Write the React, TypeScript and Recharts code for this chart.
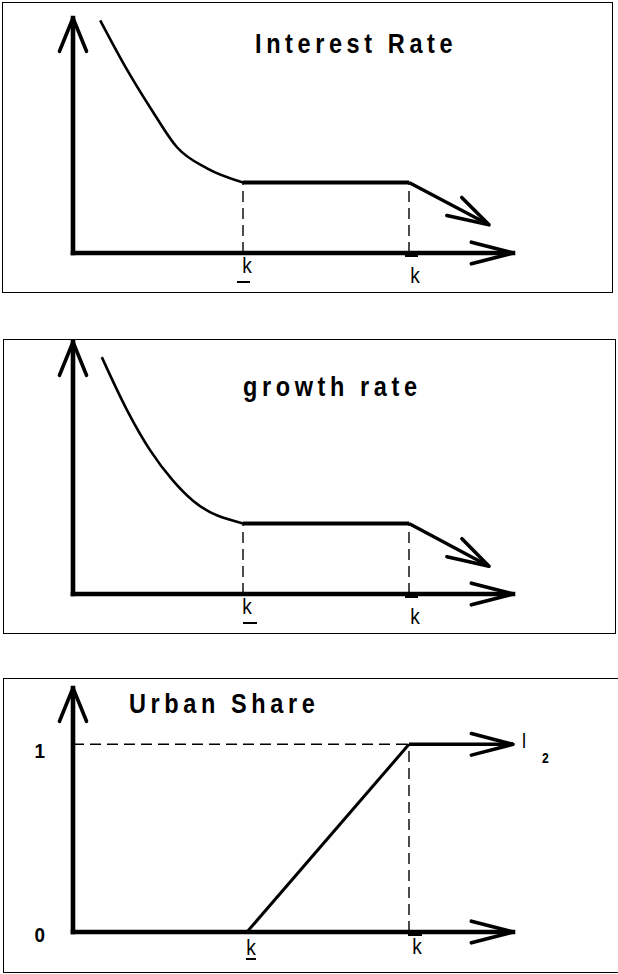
import React from 'react';
import { LineChart, Line, XAxis, YAxis, ReferenceLine } from 'recharts';

// ---------- data ----------
const xMax = 11;

// Panel 1: Interest Rate
const interestCurve = [
  { x: 0.68, y: 9.9 },
  { x: 1.35, y: 7.8 },
  { x: 2.0, y: 6.0 },
  { x: 2.6, y: 4.5 },
  { x: 3.35, y: 3.6 },
  { x: 4.25, y: 3.0 },
];
const interestFlat = [
  { x: 4.25, y: 3.0 },
  { x: 8.4, y: 3.0 },
];
const interestDecline = [
  { x: 8.4, y: 3.0 },
  { x: 10.4, y: 1.2 },
];
const interestK = [4.25, 8.4];
const interestYMax = 10;

// Panel 2: growth rate
const growthCurve = [
  { x: 0.72, y: 9.4 },
  { x: 1.35, y: 7.3 },
  { x: 1.93, y: 5.7 },
  { x: 2.5, y: 4.5 },
  { x: 3.0, y: 3.7 },
  { x: 4.25, y: 2.8 },
];
const growthFlat = [
  { x: 4.25, y: 2.8 },
  { x: 8.4, y: 2.8 },
];
const growthDecline = [
  { x: 8.4, y: 2.8 },
  { x: 10.4, y: 1.1 },
];
const growthK = [4.25, 8.4];
const growthYMax = 10;

// Panel 3: Urban Share
const urbanShare = [
  { x: 4.35, y: 0 },
  { x: 8.4, y: 1 },
];
const urbanTop = [
  { x: 8.4, y: 1 },
  { x: 11, y: 1 },
];
const urbanK = [4.35, 8.4];
const urbanYTicks = [0, 1];
const urbanYMax = 1.3;

const titles = ['Interest Rate', 'growth rate', 'Urban Share'];
const kLabel = 'k';
const endLabel = 'l';
const endSub = '2';

// ---------- styles ----------
const FONT = '"Liberation Sans", Arial, Helvetica, sans-serif';
const STRETCH = 1.25;
const NARROW = 0.87;

function SText({ x, y, children, sx = NARROW, ...rest }: any) {
  return (
    <text transform={`translate(${x},${y}) scale(${sx},1)`} x={0} y={0} fontFamily={FONT} fill="#000" {...rest}>
      {children}
    </text>
  );
}

type ArrowOpts = { width?: number; cap?: 'butt' | 'square' | 'round'; label?: boolean };

function arrowShape(opts: ArrowOpts) {
  return (props: any) => {
    const { x1, y1, x2, y2 } = props;
    const L = 35;
    const th = (18 * Math.PI) / 180;
    const dx = (x2 - x1) / STRETCH;
    const dy = y2 - y1;
    const a = Math.atan2(dy, dx) + Math.PI;
    const wing = (ang: number) => [x2 + Math.cos(ang) * L * STRETCH, y2 + Math.sin(ang) * L];
    const [ax, ay] = wing(a - th);
    const [bx, by] = wing(a + th);
    return (
      <g>
        <line
          x1={x1}
          y1={y1}
          x2={x2}
          y2={y2}
          stroke="#000"
          strokeWidth={opts.width ?? 4}
          strokeLinecap={opts.cap ?? 'butt'}
        />
        <polyline
          points={`${ax},${ay} ${x2},${y2} ${bx},${by}`}
          fill="none"
          stroke="#000"
          strokeWidth={3.6}
          strokeLinejoin="round"
          strokeLinecap="round"
        />
        {opts.label ? (
          <g>
            <SText x={x2 + 9} y={y2 + 4} fontSize={21}>
              {endLabel}
            </SText>
            <SText x={x2 + 29} y={y2 + 19} fontSize={14} fontWeight="bold">
              {endSub}
            </SText>
          </g>
        ) : null}
      </g>
    );
  };
}

type KCfg = {
  low: { dx: number; dy: number; bx0: number; bx1: number; by: number };
  high: { dx: number; dy: number; bx0: number; bx1: number; by: number };
};

function makeKTick(ticks: number[], cfg: KCfg) {
  return (p: any) => {
    const { x, y, payload } = p;
    const isLow = payload.value === ticks[0];
    const c = isLow ? cfg.low : cfg.high;
    return (
      <g>
        <SText x={x + c.dx} y={y + c.dy} textAnchor="middle" fontSize={22}>
          {kLabel}
        </SText>
        <rect x={x + c.bx0} y={y + c.by} width={c.bx1 - c.bx0} height={isLow ? 2 : 3} fill="#000" />
      </g>
    );
  };
}

const UrbanYTick = (p: any) => {
  const { x, y, payload } = p;
  return (
    <SText
      x={x - 28}
      y={y + (payload.value === 0 ? 10 : 14)}
      textAnchor="end"
      fontSize={21}
      fontWeight="bold"
      sx={0.9}
    >
      {payload.value}
    </SText>
  );
};

const dash = { stroke: '#000', strokeWidth: 1.4, strokeDasharray: '11 6' };

const titleStyle = {
  fontSize: 27,
  fontWeight: 'bold' as const,
  letterSpacing: 5.3,
};

function Box({ l, t, r, b }: { l: number; t: number; r: number; b: number }) {
  return (
    <div
      style={{
        position: 'absolute',
        left: l,
        top: t,
        width: r - l,
        height: b - t,
        border: '1.5px solid #000',
        boxSizing: 'border-box',
      }}
    />
  );
}

function RatePanel({
  top,
  margin,
  curve,
  flat,
  decline,
  ks,
  yMax,
  title,
  titleX,
  titleY,
  kcfg,
}: any) {
  const level = flat[0].y;
  return (
    <div style={{ position: 'absolute', left: 0, top }}>
      <LineChart width={618} height={300} margin={margin}>
        <XAxis
          type="number"
          dataKey="x"
          domain={[0, xMax]}
          ticks={ks}
          interval={0}
          axisLine={false}
          tickLine={false}
          tickSize={0}
          tickMargin={0}
          height={30}
          tick={makeKTick(ks, kcfg)}
        />
        <YAxis type="number" dataKey="y" domain={[0, yMax]} hide />
        <ReferenceLine
          segment={[
            { x: ks[0], y: 0 },
            { x: ks[0], y: level },
          ]}
          ifOverflow="visible"
          {...dash}
        />
        <ReferenceLine
          segment={[
            { x: ks[1], y: 0 },
            { x: ks[1], y: level },
          ]}
          ifOverflow="visible"
          {...dash}
        />
        <ReferenceLine
          segment={[
            { x: 0, y: 0 },
            { x: 0, y: yMax },
          ]}
          ifOverflow="visible"
          shape={arrowShape({ width: 4.6, cap: 'square' })}
        />
        <ReferenceLine
          segment={[
            { x: 0, y: 0 },
            { x: xMax, y: 0 },
          ]}
          ifOverflow="visible"
          shape={arrowShape({ width: 4.6, cap: 'square' })}
        />
        <Line
          data={curve}
          dataKey="y"
          type="monotone"
          stroke="#000"
          strokeWidth={2.6}
          dot={false}
          activeDot={false}
          isAnimationActive={false}
        />
        <Line
          data={flat}
          dataKey="y"
          type="linear"
          stroke="#000"
          strokeWidth={4}
          dot={false}
          activeDot={false}
          isAnimationActive={false}
        />
        <ReferenceLine segment={decline} ifOverflow="visible" shape={arrowShape({ width: 3.3 })} />
        <SText x={titleX} y={titleY} {...titleStyle}>
          {title}
        </SText>
      </LineChart>
    </div>
  );
}

function UrbanPanel() {
  return (
    <div style={{ position: 'absolute', left: 0, top: 676 }}>
      <LineChart width={618} height={300} margin={{ top: 12, right: 105, bottom: 14, left: 13 }}>
        <XAxis
          type="number"
          dataKey="x"
          domain={[0, xMax]}
          ticks={urbanK}
          interval={0}
          axisLine={false}
          tickLine={false}
          tickSize={0}
          tickMargin={0}
          height={30}
          tick={makeKTick(urbanK, {
            low: { dx: 4, dy: 23, bx0: -1, bx1: 9, by: 26 },
            high: { dx: 8, dy: 22, bx0: -1, bx1: 13, by: 1 },
          })}
        />
        <YAxis
          type="number"
          dataKey="y"
          domain={[0, urbanYMax]}
          ticks={urbanYTicks}
          interval={0}
          axisLine={false}
          tickLine={false}
          tickSize={0}
          tickMargin={0}
          width={60}
          tick={<UrbanYTick />}
        />
        <ReferenceLine
          segment={[
            { x: 0, y: 1 },
            { x: urbanK[1], y: 1 },
          ]}
          ifOverflow="visible"
          {...dash}
        />
        <ReferenceLine
          segment={[
            { x: urbanK[1], y: 0 },
            { x: urbanK[1], y: 1 },
          ]}
          ifOverflow="visible"
          {...dash}
        />
        <ReferenceLine
          segment={[
            { x: 0, y: 0 },
            { x: 0, y: urbanYMax },
          ]}
          ifOverflow="visible"
          shape={arrowShape({ width: 4.6, cap: 'square' })}
        />
        <ReferenceLine
          segment={[
            { x: 0, y: 0 },
            { x: xMax, y: 0 },
          ]}
          ifOverflow="visible"
          shape={arrowShape({ width: 4.6, cap: 'square' })}
        />
        <Line
          data={urbanShare}
          dataKey="y"
          type="linear"
          stroke="#000"
          strokeWidth={3}
          dot={false}
          activeDot={false}
          isAnimationActive={false}
        />
        <ReferenceLine segment={urbanTop} ifOverflow="visible" shape={arrowShape({ width: 3.6, label: true })} />
        <SText x={129} y={37} {...titleStyle}>
          {titles[2]}
        </SText>
      </LineChart>
    </div>
  );
}

export default function App() {
  return (
    <div style={{ position: 'absolute', left: 0, top: 0, width: 618, height: 974, background: '#fff' }}>
      <Box l={2} t={2} r={613} b={293} />
      <Box l={3} t={339} r={616} b={634} />
      <Box l={3} t={678} r={620} b={973} />
      <RatePanel
        top={0}
        margin={{ top: 18, right: 105, bottom: 17, left: 73 }}
        curve={interestCurve}
        flat={interestFlat}
        decline={interestDecline}
        ks={interestK}
        yMax={interestYMax}
        title={titles[0]}
        titleX={255}
        titleY={53}
        kcfg={{
          low: { dx: 4, dy: 20, bx0: -6, bx1: 7, by: 28 },
          high: { dx: 6, dy: 30, bx0: -4, bx1: 9, by: 1 },
        }}
      />
      <RatePanel
        top={337}
        margin={{ top: 5, right: 105, bottom: 13, left: 73 }}
        curve={growthCurve}
        flat={growthFlat}
        decline={growthDecline}
        ks={growthK}
        yMax={growthYMax}
        title={titles[1]}
        titleX={243}
        titleY={59}
        kcfg={{
          low: { dx: 4, dy: 20, bx0: 0, bx1: 14, by: 28 },
          high: { dx: 6, dy: 30, bx0: -4, bx1: 9, by: 1 },
        }}
      />
      <UrbanPanel />
    </div>
  );
}
